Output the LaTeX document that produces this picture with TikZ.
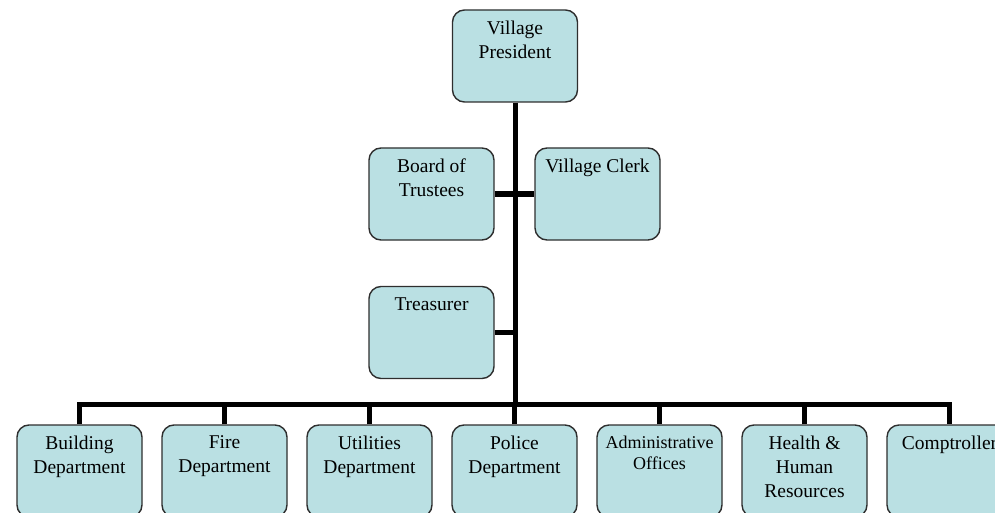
\documentclass[tikz,border=0pt]{standalone}
\usepackage{fontspec}
\setmainfont{Liberation Serif}
\definecolor{boxfill}{HTML}{BAE0E3}
\definecolor{boxline}{HTML}{2E2E2E}
\newcommand{\boxtext}[1]{\parbox[t][70pt][t]{121pt}{\centering\fontsize{19.5}{24}\selectfont #1}}
\newcommand{\smallboxtext}[1]{\parbox[t][70pt][t]{121pt}{\centering\fontsize{18}{21}\selectfont #1}}
\tikzset{
  orgbox/.style={draw=boxline, line width=1.4pt, fill=boxfill, rounded corners=12pt,
    rectangle, minimum width=125pt, minimum height=92pt, inner xsep=2pt, inner ysep=11pt,
    text=black},
  link/.style={line width=5pt, black, line cap=butt, line join=miter}
}
\begin{document}
\begin{tikzpicture}[x=1pt,y=-1pt]
\useasboundingbox (0,0) rectangle (995,513);
\clip (0,0) rectangle (995,513);
% top
\node[orgbox] (pres) at (515,56) {\boxtext{Village\\President}};
\node[orgbox] (board) at (431.5,194) {\boxtext{Board of\\Trustees}};
\node[orgbox] (clerk) at (597.5,194) {\boxtext{Village Clerk}};
\node[orgbox] (treas) at (431.5,332.5) {\boxtext{Treasurer}};
% bottom row
\node[orgbox] (build) at (79.5,471) {\boxtext{Building\\Department}};
\node[orgbox] (fire) at (224.5,471) {\boxtext{Fire\\Department}};
\node[orgbox] (util) at (369.5,471) {\boxtext{Utilities\\Department}};
\node[orgbox] (police) at (514.5,471) {\boxtext{Police\\Department}};
\node[orgbox] (admin) at (659.5,471) {\smallboxtext{Administrative\\Offices}};
\node[orgbox] (health) at (804.5,471) {\boxtext{Health \&\\Human\\Resources}};
\node[orgbox] (comp) at (949.5,471) {\boxtext{Comptroller}};
% connectors
\coordinate (hub) at (pres.south |- 0,404);
\coordinate (bl) at (build.north |- 0,404);
\coordinate (br) at (comp.north |- 0,404);
\draw[link] (pres.south) -- (hub);
\draw[link] (board.east) -- (clerk.west);
\draw[link] (treas.east) -- (treas.east -| hub);
\draw[link] (build.north) -- (bl) -- (br) -- (comp.north);
\foreach \n in {fire,util,police,admin,health}
  \draw[link] (\n.north) -- (\n.north |- hub);
\end{tikzpicture}
\end{document}
